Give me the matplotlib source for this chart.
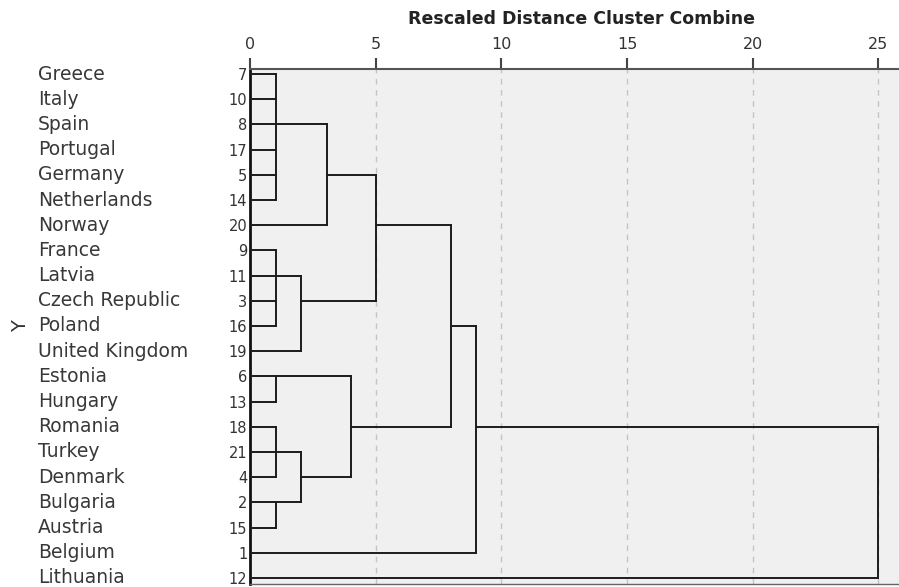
import matplotlib
matplotlib.use("Agg")
import matplotlib.pyplot as plt
import numpy as np

# ---- data ----
countries = ["Greece", "Italy", "Spain", "Portugal", "Germany", "Netherlands", "Norway",
             "France", "Latvia", "Czech Republic", "Poland", "United Kingdom", "Estonia",
             "Hungary", "Romania", "Turkey", "Denmark", "Bulgaria", "Austria", "Belgium",
             "Lithuania"]
case_ids = [7, 10, 8, 17, 5, 14, 20, 9, 11, 3, 16, 19, 6, 13, 18, 21, 4, 2, 15, 1, 12]
# merges: (children, rescaled distance); leaves are 0..20, new clusters get ids 21, 22, ...
merge_children = [
    [0, 1, 2, 3, 4, 5],   # 21
    [21, 6],              # 22
    [7, 8, 9, 10],        # 23
    [23, 11],             # 24
    [22, 24],             # 25
    [12, 13],             # 26
    [14, 15, 16],         # 27
    [17, 18],             # 28
    [27, 28],             # 29
    [26, 29],             # 30
    [25, 30],             # 31
    [31, 19],             # 32
    [32, 20],             # 33
]
merge_dist = [1.02, 3.05, 1.02, 2.03, 5.0, 1.02, 1.02, 1.02, 2.03, 4.02, 8.0, 9.0, 25.0]
xticks = [0, 5, 10, 15, 20, 25]

# ---- figure ----
W, H = 899, 587
fig = plt.figure(figsize=(W / 100, H / 100), dpi=100)
ax_left, ax_right, ax_top, ax_bot = 250, 899, 69, 584
ax = fig.add_axes([ax_left / W, 1 - ax_bot / H, (ax_right - ax_left) / W, (ax_bot - ax_top) / H])
ax.set_facecolor("#f0f0f0")
px_per_unit = 25.13
ax.set_xlim(0, (ax_right - ax_left) / px_per_unit)
n = len(countries)
ax.set_ylim(n - 1 + 0.24, -0.2)

# grid
for xv in xticks[1:]:
    ax.axvline(xv, color="#c4c4c4", lw=1.0, ls=(0, (4, 4)), zorder=1)

# dendrogram
pos_x = {i: 0.0 for i in range(n)}
pos_y = {i: float(i) for i in range(n)}
lc = "#1c1c1c"
for k, (children, d) in enumerate(zip(merge_children, merge_dist)):
    cid = n + k
    ys = [pos_y[c] for c in children]
    for c in children:
        ax.plot([pos_x[c], d], [pos_y[c], pos_y[c]], color=lc, lw=1.4, zorder=3,
                solid_capstyle="projecting")
    ax.plot([d, d], [min(ys), max(ys)], color=lc, lw=1.4, zorder=3,
            solid_capstyle="projecting")
    pos_x[cid] = d
    pos_y[cid] = float(np.floor((min(ys) + max(ys)) / 2))

# axes styling
ax.xaxis.tick_top()
ax.set_xticks(xticks)
ax.set_xticklabels([str(v) for v in xticks], fontsize=11.5, color="#333333",
                   family="DejaVu Sans")
ax.tick_params(axis="x", direction="out", length=8, width=1.5, color="#444444", pad=4)
ax.set_yticks(range(n))
ax.set_yticklabels([str(c) for c in case_ids], fontsize=10.5, color="#333333")
ax.tick_params(axis="y", length=0, pad=2)

ax.spines["left"].set_color("#111111")
ax.spines["left"].set_linewidth(2.0)
ax.spines["top"].set_color("#555555")
ax.spines["top"].set_linewidth(1.5)
ax.spines["bottom"].set_color("#666666")
ax.spines["bottom"].set_linewidth(1.0)
ax.spines["right"].set_visible(False)

# country names
for i, name in enumerate(countries):
    ax.text((38 - ax_left) / (ax_right - ax_left), i, name, transform=ax.get_yaxis_transform(),
            ha="left", va="center", fontsize=13.5, color="#383838", family="DejaVu Sans")

# y label
fig.text(21 / W, 1 - 326 / H, "Y", rotation=90, ha="center", va="center",
         fontsize=14, color="#333333")

# title
fig.text(581 / W, 1 - 19 / H, "Rescaled Distance Cluster Combine", ha="center", va="center",
         fontsize=12.5, fontweight="bold", color="#222222")

fig.savefig("out.png", dpi=100)
